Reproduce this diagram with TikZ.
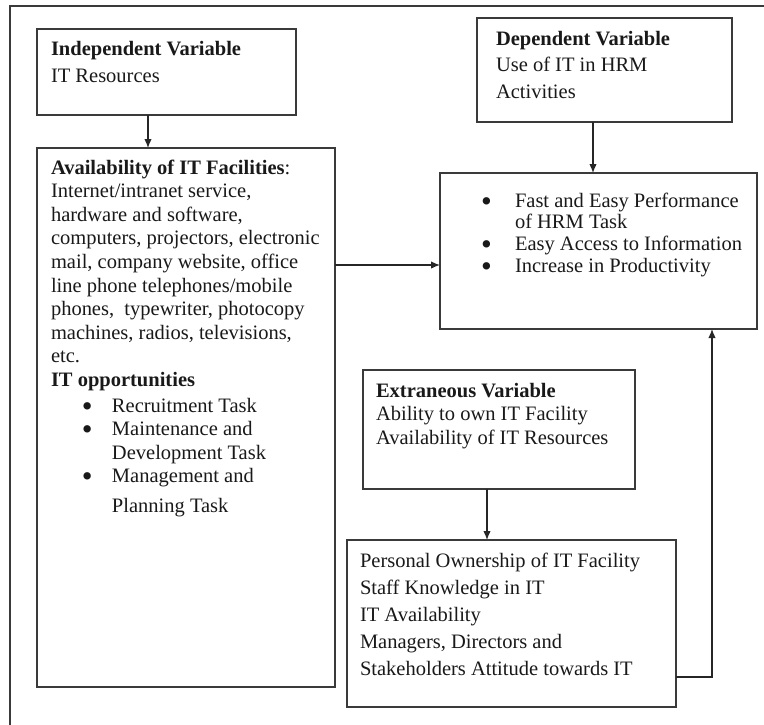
\documentclass[tikz,border=0pt]{standalone}
\usepackage{fontspec}
\setmainfont{Liberation Serif}
\usetikzlibrary{arrows.meta,fit,calc}
\definecolor{linegray}{HTML}{3A3A3A}
\newcommand{\bigbul}{\smash{\raisebox{-4pt}{\scalebox{1.5}{\textbullet}}}}
\begin{document}
\begin{tikzpicture}[x=1pt,y=-1pt,
  box/.style={draw=linegray,line width=1.3pt,inner sep=0pt,outer sep=0pt,rectangle},
  frame/.style={draw=linegray,line width=1.3pt},
  arr/.style={draw=black!85,line width=1.3pt,-{Latex[length=9pt,width=7.5pt]}},
  txt/.style={anchor=base west,inner sep=0pt,outer sep=0pt,font=\fontsize{20.5}{23.6}\selectfont,text=black!90}]
\useasboundingbox (0,0) rectangle (764,724);
\draw[frame] (10,730) -- (10,6) -- (770,6);
% boxes
\node[box,fit={(37,29) (296,115)}] (iv) {};
\node[box,fit={(37,148) (335,687)}] (avail) {};
\node[box,fit={(477,18) (732,122)}] (dv) {};
\node[box,fit={(440,173) (757,329)}] (res) {};
\node[box,fit={(363,370) (635,489)}] (ext) {};
\node[box,fit={(347,540) (676,707)}] (own) {};
% texts
\node[txt] (ivt) at (51,55) {\begin{tabular}[t]{@{}l@{}}\textbf{Independent Variable}\\[3.4pt]IT Resources\end{tabular}};
\node[txt] (availt) at (51,174) {\begin{tabular}[t]{@{}l@{}}
\textbf{Availability of IT Facilities}:\\
Internet/intranet service,\\
hardware and software,\\
computers, projectors, electronic\\
mail, company website, office\\
line phone telephones/mobile\\
phones,\ \ typewriter, photocopy\\
machines, radios, televisions,\\
etc.\\
\textbf{IT opportunities}\\[2pt]
\makebox[61pt][l]{\hspace{31pt}\bigbul}Recruitment Task\\
\makebox[61pt][l]{\hspace{31pt}\bigbul}Maintenance and\\
\makebox[61pt][l]{}Development Task\\
\makebox[61pt][l]{\hspace{31pt}\bigbul}Management and\\[6pt]
\makebox[61pt][l]{}Planning Task
\end{tabular}};
\node[txt] (dvt) at (496,45) {\begin{tabular}[t]{@{}l@{}}\textbf{Dependent Variable}\\[2.6pt]Use of IT in HRM\\[3.4pt]Activities\end{tabular}};
\node[txt] (rest) at (466,207) {\fontsize{20.5}{21.8}\selectfont\begin{tabular}[t]{@{}l@{}}
\makebox[49pt][l]{\hspace{15pt}\bigbul}Fast and Easy Performance\\
\makebox[49pt][l]{}of HRM Task\\
\makebox[49pt][l]{\hspace{15pt}\bigbul}Easy Access to Information\\
\makebox[49pt][l]{\hspace{15pt}\bigbul}Increase in Productivity
\end{tabular}};
\node[txt] (extt) at (376,397) {\begin{tabular}[t]{@{}l@{}}\textbf{Extraneous Variable}\\Ability to own IT Facility\\Availability of IT Resources\end{tabular}};
\node[txt] (ownt) at (360,567) {\fontsize{20.5}{27}\selectfont\begin{tabular}[t]{@{}l@{}}
Personal Ownership of IT Facility\\
Staff Knowledge in IT\\
IT Availability\\
Managers, Directors and\\
Stakeholders Attitude towards IT
\end{tabular}};
% connectors
\draw[arr] ([xshift=111pt]iv.south west) -- ([xshift=111pt]iv.south west |- avail.north);
\draw[arr] ([xshift=116pt]dv.south west) -- ([xshift=116pt]dv.south west |- res.north);
\draw[arr] ([yshift=-117pt]avail.north east) -- ([yshift=-117pt]avail.north east -| res.west);
\draw[arr] ([xshift=124pt]ext.south west) -- ([xshift=124pt]ext.south west |- own.north);
\draw[arr] ([yshift=-137pt]own.north east) -| ([xshift=-45pt]res.south east);
\end{tikzpicture}
\end{document}
